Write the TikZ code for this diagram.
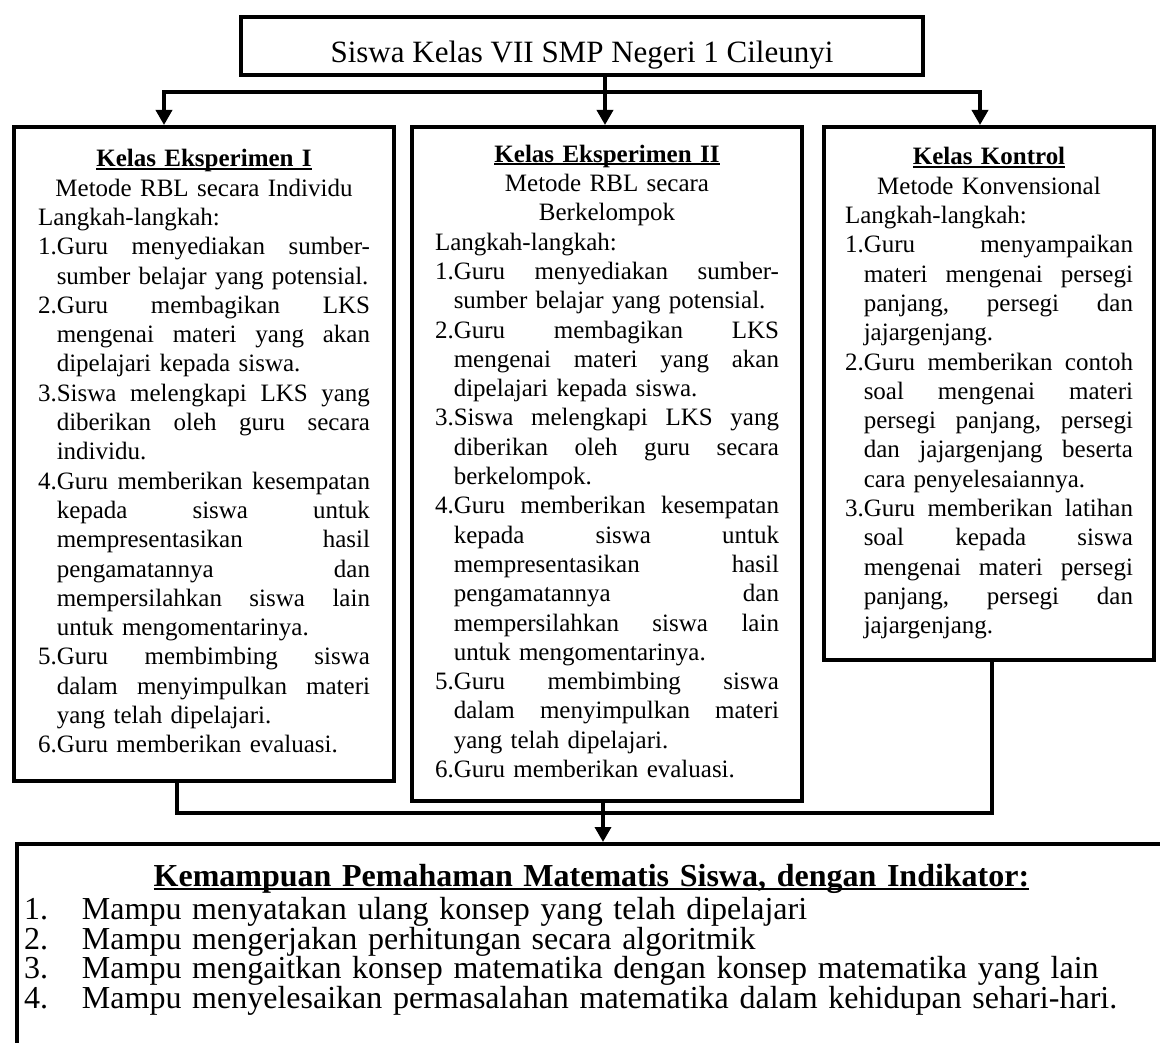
\documentclass[tikz,border=0pt]{standalone}
\usepackage{fontspec}
\setmainfont{Liberation Serif}
\usetikzlibrary{arrows.meta}
\setlength\parindent{0pt}
\newlength\hangw
\newcommand\ulb[1]{\setbox0\hbox{\textbf{#1}}\rlap{\rule[-0.12em]{\wd0}{0.07em}}\box0}
\def\Jsplit#1 #2\Jend{#1\ifx\relax#2\relax\else\hfill\Jsplit#2\Jend\fi}
\newcommand\Lc[1]{\hbox to\hsize{\hfil\strut#1\hfil}}
\newcommand\Lf[1]{\hbox to\hsize{\strut#1\hfil}}
\newcommand\Lj[1]{\hbox to\hsize{\strut\Jsplit#1 \Jend}}
\newcommand\Ij[1]{\hbox to\hsize{\hskip\hangw\strut\Jsplit#1 \Jend}}
\newcommand\If[1]{\hbox to\hsize{\hskip\hangw\strut#1\hfil}}
\newcommand\num[1]{\makebox[58pt][l]{#1}}
\newcommand\boxsetup{\settowidth{\hangw}{1.}\lineskiplimit=-20pt}
\begin{document}
\begin{tikzpicture}[x=1pt,y=-1pt,
  box/.style={draw=black, line width=4pt, rectangle, inner sep=0pt, fill=white},
  conn/.style={line width=3.5pt, black},
  arr/.style={conn, -{Triangle[width=16pt,length=15pt]}},
  body/.style={font=\fontsize{25}{29.3}\selectfont}]
\fill[white] (0,0) rectangle (1160,1043);
\useasboundingbox (0,0) rectangle (1160,1043);

% top box
\node[box, anchor=north west, minimum width=682pt, minimum height=58pt,
  text height=34pt, text depth=0pt,
  font=\fontsize{31}{36}\selectfont] (top) at (239,15)
  {Siswa Kelas VII SMP Negeri 1 Cileunyi};

% box 1
\node[box, body, anchor=north west, minimum width=380pt, minimum height=654pt,
  text width=332pt] (b1) at (12,125) {\boxsetup
\Lc{\ulb{Kelas Eksperimen I}}
\Lc{Metode RBL secara Individu}
\Lf{Langkah-langkah:}
\Lj{1.Guru menyediakan sumber-}
\If{sumber belajar yang potensial.}
\Lj{2.Guru membagikan LKS}
\Ij{mengenai materi yang akan}
\If{dipelajari kepada siswa.}
\Lj{3.Siswa melengkapi LKS yang}
\Ij{diberikan oleh guru secara}
\If{individu.}
\Lj{4.Guru memberikan kesempatan}
\Ij{kepada siswa untuk}
\Ij{mempresentasikan hasil}
\Ij{pengamatannya dan}
\Ij{mempersilahkan siswa lain}
\If{untuk mengomentarinya.}
\Lj{5.Guru membimbing siswa}
\Ij{dalam menyimpulkan materi}
\If{yang telah dipelajari.}
\Lf{6.Guru memberikan evaluasi.}};

% box 2
\node[box, body, anchor=north west, minimum width=390pt, minimum height=674pt,
  text width=344pt] (b2) at (410,125) {\boxsetup
\Lc{\ulb{Kelas Eksperimen II}}
\Lc{Metode RBL secara}
\Lc{Berkelompok}
\Lf{Langkah-langkah:}
\Lj{1.Guru menyediakan sumber-}
\If{sumber belajar yang potensial.}
\Lj{2.Guru membagikan LKS}
\Ij{mengenai materi yang akan}
\If{dipelajari kepada siswa.}
\Lj{3.Siswa melengkapi LKS yang}
\Ij{diberikan oleh guru secara}
\If{berkelompok.}
\Lj{4.Guru memberikan kesempatan}
\Ij{kepada siswa untuk}
\Ij{mempresentasikan hasil}
\Ij{pengamatannya dan}
\Ij{mempersilahkan siswa lain}
\If{untuk mengomentarinya.}
\Lj{5.Guru membimbing siswa}
\Ij{dalam menyimpulkan materi}
\If{yang telah dipelajari.}
\Lf{6.Guru memberikan evaluasi.}};

% box 3
\node[box, body, anchor=north west, minimum width=330pt, minimum height=533pt,
  text width=288pt] (b3) at (822,125) {\boxsetup
\Lc{\ulb{Kelas Kontrol}}
\Lc{Metode Konvensional}
\Lf{Langkah-langkah:}
\Lj{1.Guru menyampaikan}
\Ij{materi mengenai persegi}
\Ij{panjang, persegi dan}
\If{jajargenjang.}
\Lj{2.Guru memberikan contoh}
\Ij{soal mengenai materi}
\Ij{persegi panjang, persegi}
\Ij{dan jajargenjang beserta}
\If{cara penyelesaiannya.}
\Lj{3.Guru memberikan latihan}
\Ij{soal kepada siswa}
\Ij{mengenai materi persegi}
\Ij{panjang, persegi dan}
\If{jajargenjang.}};

% bottom box
\node[box, anchor=north west, inner xsep=7pt, text width=1135pt,
  text height=42pt, text depth=200pt,
  font=\fontsize{32}{29.6}\selectfont] (bot) at (15,842) {%
\makebox[\linewidth][c]{\ulb{Kemampuan Pemahaman Matematis Siswa, dengan Indikator:}}\par
\vspace{4pt}
\num{1.}Mampu menyatakan ulang konsep yang telah dipelajari\par
\num{2.}Mampu mengerjakan perhitungan secara algoritmik\par
\num{3.}Mampu mengaitkan konsep matematika dengan konsep matematika yang lain\par
\num{4.}Mampu menyelesaikan permasalahan matematika dalam kehidupan sehari-hari.\par};

% connectors top
\coordinate (J) at (605,92);
\coordinate (hl) at (164,92);
\coordinate (hr) at (980,92);
\draw[arr] (J) -| (hl |- b1.north);
\draw[arr] (J) -| (hr |- b3.north);
\draw[arr] (top.south -| J) -- (J |- b2.north);

% connectors bottom
\coordinate (c1) at (177,813);
\coordinate (c3) at (992,813);
\coordinate (m2) at (603,813);
\draw[conn] (b1.south -| c1) |- (c3) -- (b3.south -| c3);
\draw[arr] (b2.south -| m2) -- (bot.north -| m2);
\end{tikzpicture}
\end{document}
